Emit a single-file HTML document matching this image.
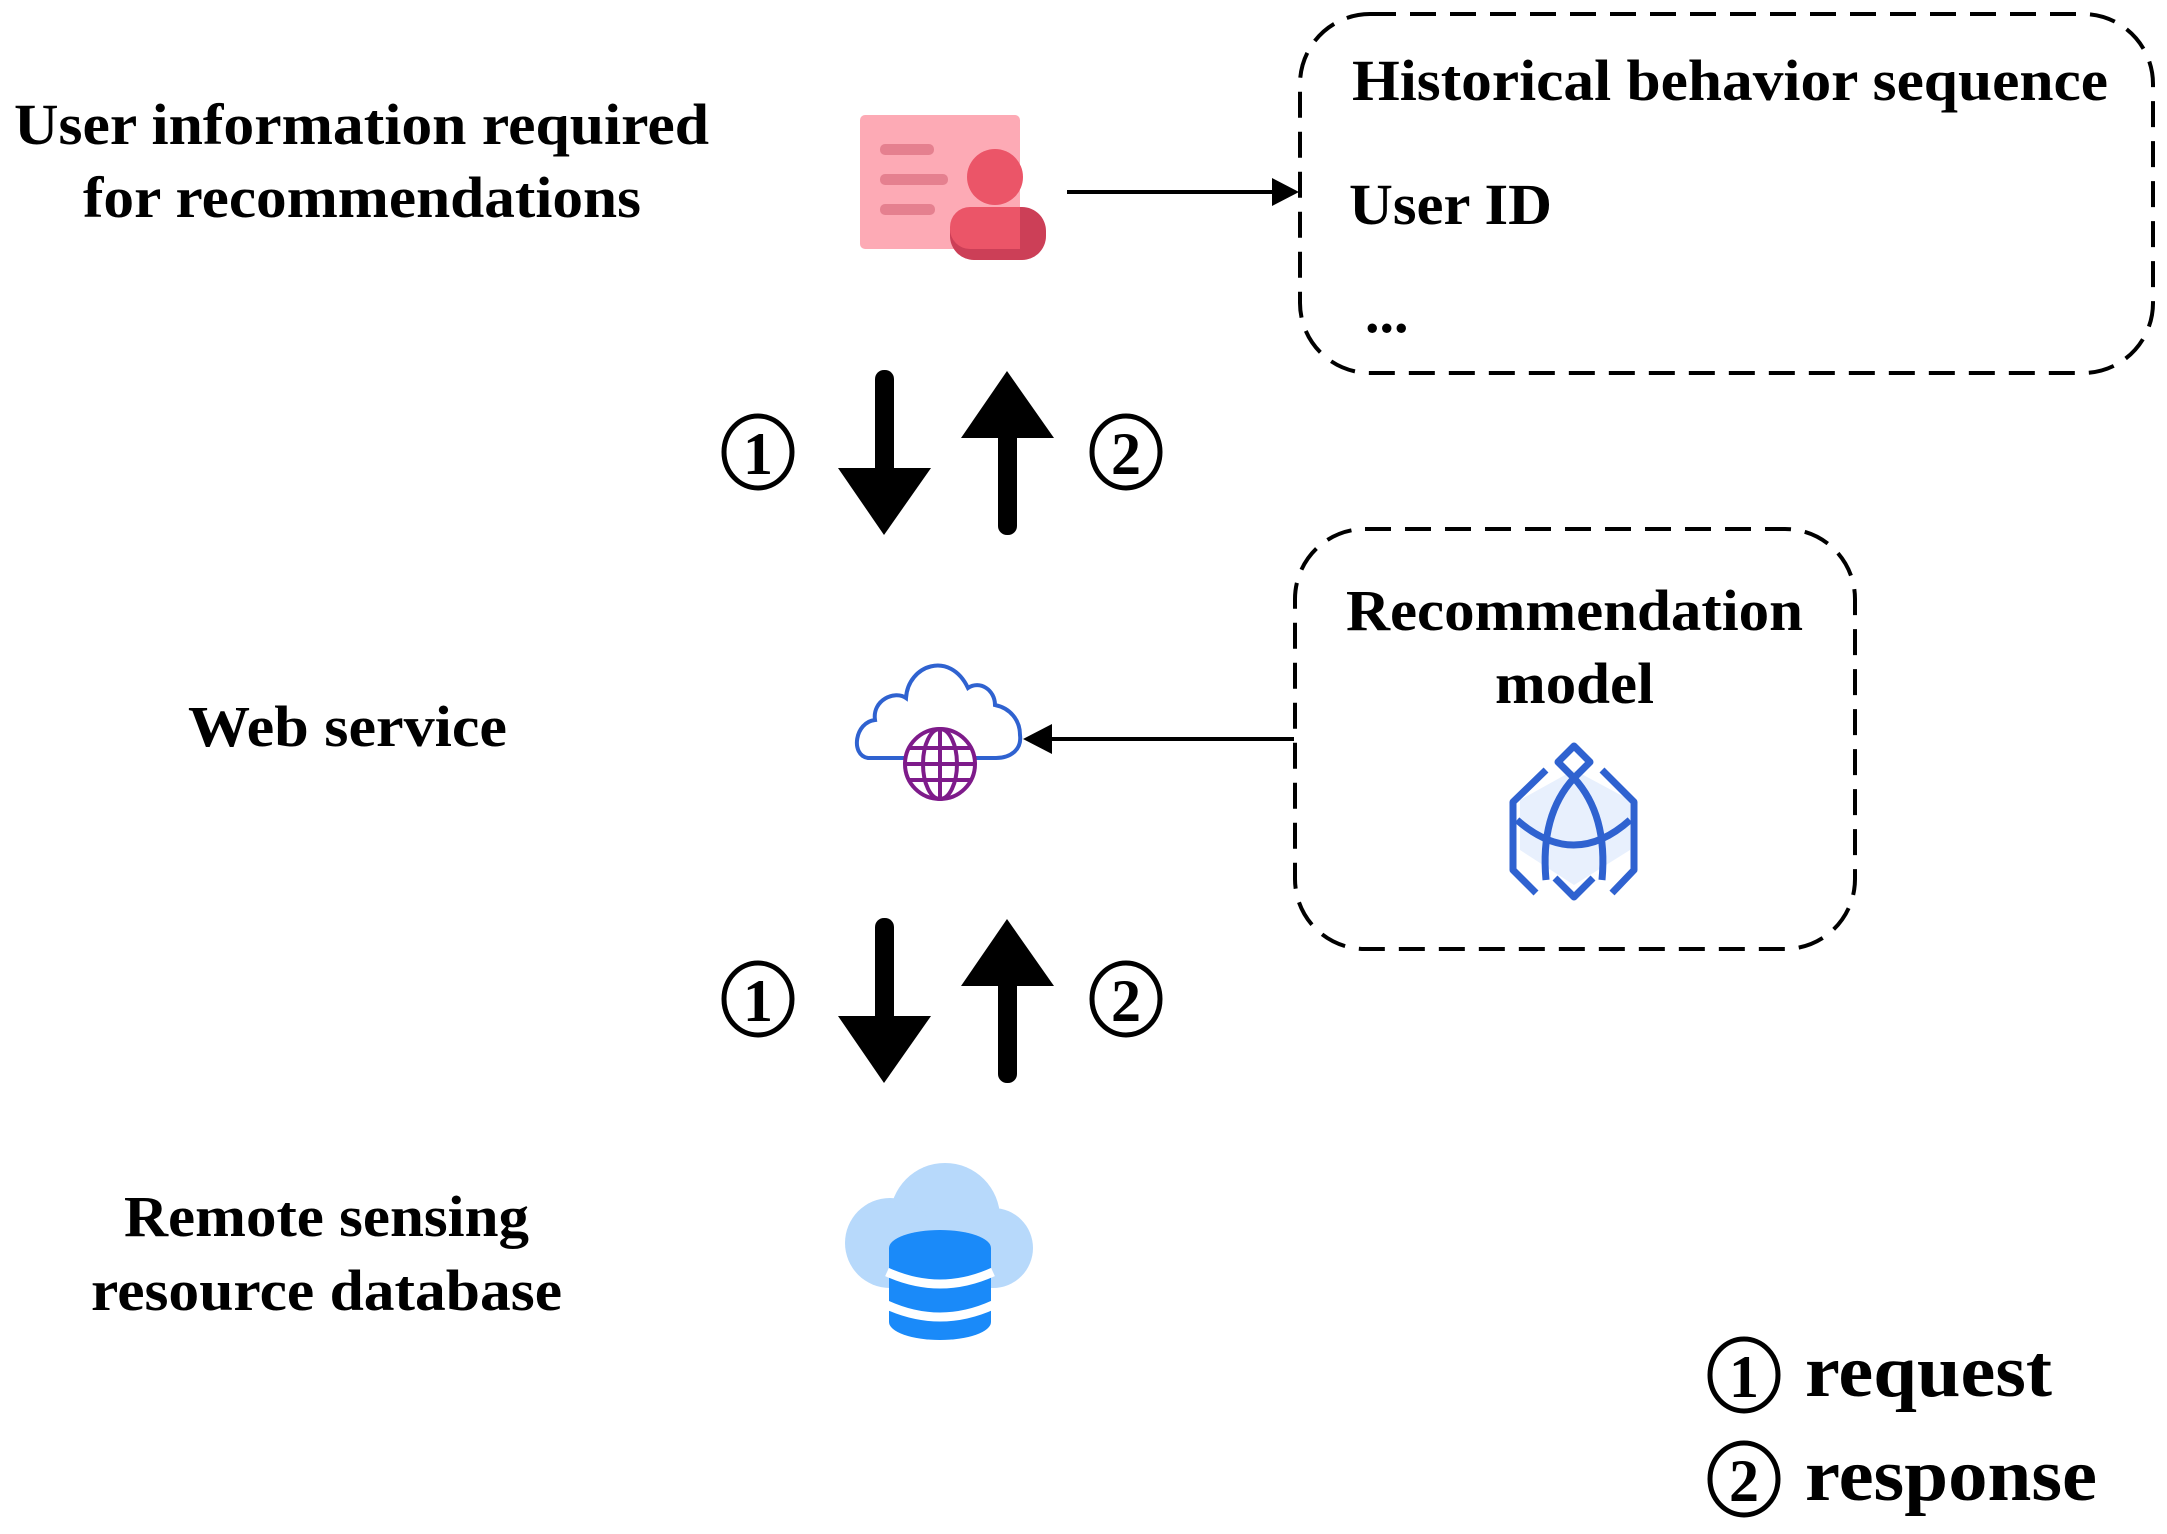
<!DOCTYPE html>
<html><head><meta charset="utf-8"><style>
html,body{margin:0;padding:0;background:#fff;}
svg{display:block;}
text{font-family:"Liberation Serif",serif;font-weight:bold;fill:#000;}
</style></head><body>
<svg width="2167" height="1534" viewBox="0 0 2167 1534" xmlns="http://www.w3.org/2000/svg">
<!-- texts left -->
<text x="14" y="144" font-size="58" textLength="695" lengthAdjust="spacingAndGlyphs">User information required</text>
<text x="83" y="217" font-size="58" textLength="558" lengthAdjust="spacingAndGlyphs">for recommendations</text>
<text x="188" y="746" font-size="58" textLength="319" lengthAdjust="spacingAndGlyphs">Web service</text>
<text x="124" y="1236" font-size="58" textLength="405" lengthAdjust="spacingAndGlyphs">Remote sensing</text>
<text x="91" y="1310" font-size="58" textLength="471" lengthAdjust="spacingAndGlyphs">resource database</text>

<!-- user icon -->
<rect x="860" y="115" width="160" height="134" rx="5" fill="#fdaab5"/>
<rect x="880" y="144" width="54" height="11" rx="5" fill="#e5808f"/>
<rect x="880" y="174" width="68" height="11" rx="5" fill="#e5808f"/>
<rect x="880" y="204" width="55" height="11" rx="5" fill="#e5808f"/>
<ellipse cx="995" cy="177" rx="28" ry="28" fill="#eb5568"/>
<rect x="950" y="207" width="96" height="53" rx="24" fill="#cc3f57"/>
<rect x="950" y="207" width="70" height="42" rx="20" fill="#eb5568"/>
<rect x="970" y="207" width="50" height="42" fill="#eb5568"/>

<!-- arrow to box1 -->
<line x1="1067" y1="192" x2="1278" y2="192" stroke="#000" stroke-width="4"/>
<polygon points="1299,192 1272,178 1272,206" fill="#000"/>

<!-- box1 -->
<rect x="1300" y="14" width="853" height="359" rx="70" fill="none" stroke="#000" stroke-width="4" stroke-dasharray="26,14"/>
<text x="1352" y="100" font-size="58" textLength="756" lengthAdjust="spacingAndGlyphs">Historical behavior sequence</text>
<text x="1349" y="224" font-size="58" textLength="203" lengthAdjust="spacingAndGlyphs">User ID</text>
<text x="1365" y="332" font-size="58">...</text>

<!-- arrows -->
<g fill="#000">
<rect x="875" y="370" width="19" height="110" rx="9"/>
<polygon points="838,468 931,468 884,535"/>
<rect x="998" y="425" width="19" height="110" rx="9"/>
<polygon points="961,438 1054,438 1007,371"/>
<rect x="875" y="918" width="19" height="110" rx="9"/>
<polygon points="838,1016 931,1016 884,1083"/>
<rect x="998" y="973" width="19" height="110" rx="9"/>
<polygon points="961,986 1054,986 1007,919"/>
</g>
<g fill="none" stroke="#000" stroke-width="5">
<ellipse cx="758" cy="452" rx="34" ry="36"/>
<ellipse cx="1126" cy="452" rx="34" ry="36"/>
<ellipse cx="758" cy="999" rx="34" ry="36"/>
<ellipse cx="1126" cy="999" rx="34" ry="36"/>
</g>
<text x="758" y="474" font-size="60" text-anchor="middle" font-weight="normal">1</text>
<text x="1126" y="474" font-size="60" text-anchor="middle" font-weight="normal">2</text>
<text x="758" y="1021" font-size="60" text-anchor="middle" font-weight="normal">1</text>
<text x="1126" y="1021" font-size="60" text-anchor="middle" font-weight="normal">2</text>

<!-- cloud web icon -->
<path d="M868,758 C850,755 855,722 875,720 C872,700 895,690 906,698 C908,665 950,650 968,688 C980,680 995,690 995,705 C1010,708 1020,720 1020,735 C1022,750 1010,758 996,758 Z" fill="none" stroke="#2f62d0" stroke-width="4"/>
<rect x="905" y="745" width="70" height="20" fill="#fff"/>
<g fill="none" stroke="#7e1b8a" stroke-width="4">
<circle cx="940" cy="764" r="35"/>
<ellipse cx="940" cy="764" rx="17" ry="35"/>
<line x1="940" y1="729" x2="940" y2="799"/>
<line x1="905" y1="764" x2="975" y2="764"/>
<line x1="910" y1="748" x2="970" y2="748"/>
<line x1="910" y1="780" x2="970" y2="780"/>
</g>

<!-- arrow from box2 -->
<line x1="1294" y1="739" x2="1045" y2="739" stroke="#000" stroke-width="4"/>
<polygon points="1023,739 1052,724 1052,754" fill="#000"/>

<!-- box2 -->
<rect x="1295" y="529" width="560" height="420" rx="70" fill="none" stroke="#000" stroke-width="4" stroke-dasharray="26,14"/>
<text x="1346" y="630" font-size="58" textLength="457" lengthAdjust="spacingAndGlyphs">Recommendation</text>
<text x="1495" y="703" font-size="58" textLength="159" lengthAdjust="spacingAndGlyphs">model</text>

<!-- model icon -->
<polygon points="1574,770 1630,800 1630,850 1574,885 1520,850 1520,800" fill="#e8f0fd"/>
<g fill="none" stroke="#2f62d0" stroke-width="7" stroke-linejoin="round">
<polygon points="1574,746 1590,762 1574,778 1558,762"/>
<path d="M1546,770 L1513,802 L1513,850"/>
<path d="M1602,770 L1634,802 L1634,850"/>
<path d="M1513,820 L1513,870 L1536,893"/>
<path d="M1634,820 L1634,870 L1612,893"/>
<path d="M1555,878 L1574,897 L1593,878"/>
<path d="M1517,820 Q1574,870 1630,820"/>
<path d="M1574,778 Q1540,815 1546,880"/>
<path d="M1574,778 Q1608,815 1602,880"/>
</g>

<!-- db icon -->
<g fill="#b7d9fb">
<circle cx="945" cy="1218" r="55"/>
<circle cx="890" cy="1243" r="45"/>
<circle cx="993" cy="1248" r="40"/>
<rect x="890" y="1240" width="100" height="48"/>
</g>
<g fill="#1a8af9">
<path d="M889,1248 A51,18 0 0 1 991,1248 L991,1322 A51,18 0 0 1 889,1322 Z"/>
</g>
<g fill="none" stroke="#fff" stroke-width="9">
<path d="M887,1272 Q940,1296 993,1272"/>
<path d="M887,1305 Q940,1329 993,1305"/>
</g>

<!-- legend -->
<g fill="none" stroke="#000" stroke-width="5">
<ellipse cx="1744" cy="1375" rx="34" ry="36"/>
<ellipse cx="1744" cy="1479" rx="34" ry="36"/>
</g>
<text x="1744" y="1397" font-size="60" text-anchor="middle" font-weight="normal">1</text>
<text x="1744" y="1501" font-size="60" text-anchor="middle" font-weight="normal">2</text>
<text x="1805" y="1396" font-size="74" textLength="247" lengthAdjust="spacingAndGlyphs">request</text>
<text x="1805" y="1500" font-size="74" textLength="292" lengthAdjust="spacingAndGlyphs">response</text>
</svg>
</body></html>
